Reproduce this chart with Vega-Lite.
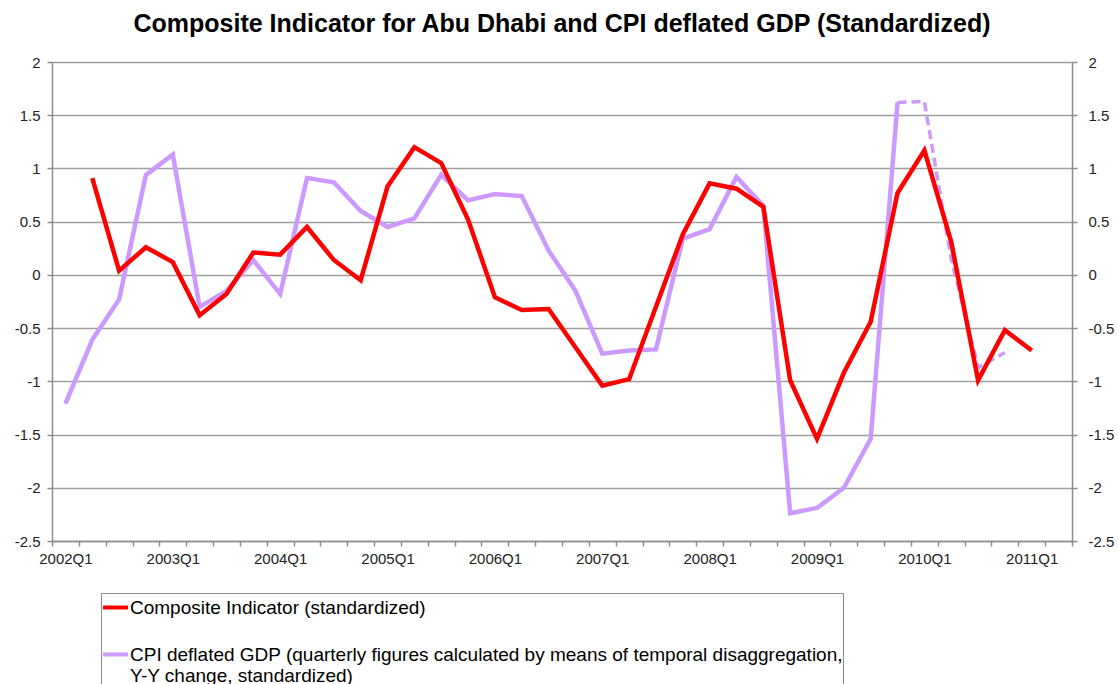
{
  "$schema": "https://vega.github.io/schema/vega-lite/v6.json",
  "width": 1020,
  "height": 479,
  "autosize": "none",
  "padding": {"left": 52, "top": 62, "right": 47, "bottom": 143},
  "background": "white",
  "title": {
    "text": "Composite Indicator for Abu Dhabi and CPI deflated GDP (Standardized)",
    "font": "Liberation Sans",
    "fontSize": 25,
    "fontWeight": "bold",
    "color": "#000000",
    "anchor": "middle",
    "offset": 18
  },
  "config": {
    "view": {"stroke": null},
    "axis": {
      "labelFont": "Liberation Sans",
      "labelFontSize": 15,
      "labelColor": "#222222",
      "domainColor": "#8c8c8c",
      "tickColor": "#8c8c8c",
      "domainWidth": 1.5,
      "tickWidth": 1.5,
      "title": null
    }
  },
  "data": {
    "values": [
      {"q": "2002Q2", "s": "ci", "v": 0.91},
      {"q": "2002Q3", "s": "ci", "v": 0.04},
      {"q": "2002Q4", "s": "ci", "v": 0.26},
      {"q": "2003Q1", "s": "ci", "v": 0.12},
      {"q": "2003Q2", "s": "ci", "v": -0.38},
      {"q": "2003Q3", "s": "ci", "v": -0.18},
      {"q": "2003Q4", "s": "ci", "v": 0.21},
      {"q": "2004Q1", "s": "ci", "v": 0.19},
      {"q": "2004Q2", "s": "ci", "v": 0.45},
      {"q": "2004Q3", "s": "ci", "v": 0.14},
      {"q": "2004Q4", "s": "ci", "v": -0.05},
      {"q": "2005Q1", "s": "ci", "v": 0.83},
      {"q": "2005Q2", "s": "ci", "v": 1.2},
      {"q": "2005Q3", "s": "ci", "v": 1.05},
      {"q": "2005Q4", "s": "ci", "v": 0.52},
      {"q": "2006Q1", "s": "ci", "v": -0.21},
      {"q": "2006Q2", "s": "ci", "v": -0.33},
      {"q": "2006Q3", "s": "ci", "v": -0.32},
      {"q": "2006Q4", "s": "ci", "v": -0.68},
      {"q": "2007Q1", "s": "ci", "v": -1.04},
      {"q": "2007Q2", "s": "ci", "v": -0.98},
      {"q": "2007Q3", "s": "ci", "v": -0.3},
      {"q": "2007Q4", "s": "ci", "v": 0.38},
      {"q": "2008Q1", "s": "ci", "v": 0.86},
      {"q": "2008Q2", "s": "ci", "v": 0.81},
      {"q": "2008Q3", "s": "ci", "v": 0.64},
      {"q": "2008Q4", "s": "ci", "v": -0.99},
      {"q": "2009Q1", "s": "ci", "v": -1.54},
      {"q": "2009Q2", "s": "ci", "v": -0.92},
      {"q": "2009Q3", "s": "ci", "v": -0.44},
      {"q": "2009Q4", "s": "ci", "v": 0.77},
      {"q": "2010Q1", "s": "ci", "v": 1.17},
      {"q": "2010Q2", "s": "ci", "v": 0.31},
      {"q": "2010Q3", "s": "ci", "v": -0.99},
      {"q": "2010Q4", "s": "ci", "v": -0.52},
      {"q": "2011Q1", "s": "ci", "v": -0.71},
      {"q": "2002Q1", "s": "gdp", "v": -1.21},
      {"q": "2002Q2", "s": "gdp", "v": -0.61},
      {"q": "2002Q3", "s": "gdp", "v": -0.23},
      {"q": "2002Q4", "s": "gdp", "v": 0.94},
      {"q": "2003Q1", "s": "gdp", "v": 1.13},
      {"q": "2003Q2", "s": "gdp", "v": -0.3},
      {"q": "2003Q3", "s": "gdp", "v": -0.15},
      {"q": "2003Q4", "s": "gdp", "v": 0.14},
      {"q": "2004Q1", "s": "gdp", "v": -0.18},
      {"q": "2004Q2", "s": "gdp", "v": 0.91},
      {"q": "2004Q3", "s": "gdp", "v": 0.87},
      {"q": "2004Q4", "s": "gdp", "v": 0.6},
      {"q": "2005Q1", "s": "gdp", "v": 0.45},
      {"q": "2005Q2", "s": "gdp", "v": 0.53},
      {"q": "2005Q3", "s": "gdp", "v": 0.94},
      {"q": "2005Q4", "s": "gdp", "v": 0.7},
      {"q": "2006Q1", "s": "gdp", "v": 0.76},
      {"q": "2006Q2", "s": "gdp", "v": 0.74},
      {"q": "2006Q3", "s": "gdp", "v": 0.23},
      {"q": "2006Q4", "s": "gdp", "v": -0.15},
      {"q": "2007Q1", "s": "gdp", "v": -0.74},
      {"q": "2007Q2", "s": "gdp", "v": -0.71},
      {"q": "2007Q3", "s": "gdp", "v": -0.7},
      {"q": "2007Q4", "s": "gdp", "v": 0.34},
      {"q": "2008Q1", "s": "gdp", "v": 0.43},
      {"q": "2008Q2", "s": "gdp", "v": 0.92},
      {"q": "2008Q3", "s": "gdp", "v": 0.65},
      {"q": "2008Q4", "s": "gdp", "v": -2.24},
      {"q": "2009Q1", "s": "gdp", "v": -2.19},
      {"q": "2009Q2", "s": "gdp", "v": -2.0},
      {"q": "2009Q3", "s": "gdp", "v": -1.54},
      {"q": "2009Q4", "s": "gdp", "v": 1.62},
      {"q": "2009Q4", "s": "gdpf", "v": 1.62},
      {"q": "2010Q1", "s": "gdpf", "v": 1.63},
      {"q": "2010Q2", "s": "gdpf", "v": 0.15},
      {"q": "2010Q3", "s": "gdpf", "v": -0.87},
      {"q": "2010Q4", "s": "gdpf", "v": -0.73}
    ]
  },
  "encoding": {
    "x": {
      "field": "q",
      "type": "ordinal",
      "scale": {
        "type": "band",
        "paddingInner": 0,
        "paddingOuter": 0,
        "domain": ["2002Q1","2002Q2","2002Q3","2002Q4","2003Q1","2003Q2","2003Q3","2003Q4","2004Q1","2004Q2","2004Q3","2004Q4","2005Q1","2005Q2","2005Q3","2005Q4","2006Q1","2006Q2","2006Q3","2006Q4","2007Q1","2007Q2","2007Q3","2007Q4","2008Q1","2008Q2","2008Q3","2008Q4","2009Q1","2009Q2","2009Q3","2009Q4","2010Q1","2010Q2","2010Q3","2010Q4","2011Q1","2011Q2"]
      },
      "axis": {
        "tickBand": "extent",
        "labelAngle": 0,
        "labelOverlap": false,
        "labelPadding": 5,
        "tickSize": 5,
        "grid": false,
        "labelExpr": "indexof(datum.label, 'Q1') > 0 ? datum.label : ''"
      }
    }
  },
  "layer": [
    {
      "transform": [{"filter": "datum.s == 'gdp'"}],
      "mark": {"type": "line", "strokeWidth": 4.5, "strokeJoin": "miter"},
      "encoding": {
        "y": {
          "field": "v",
          "type": "quantitative",
          "scale": {"domain": [-2.5, 2], "nice": false, "zero": false},
          "axis": {
            "orient": "right",
            "values": [-2.5, -2, -1.5, -1, -0.5, 0, 0.5, 1, 1.5, 2],
            "labelExpr": "'' + datum.value",
            "grid": false,
            "tickSize": 5,
            "labelPadding": 11
          }
        },
        "color": {
          "field": "s",
          "type": "nominal",
          "scale": {"domain": ["ci", "gdp"], "range": ["#ff0000", "#cc99ff"]},
          "legend": {
            "orient": "none",
            "legendX": 49,
            "legendY": 531,
            "title": null,
            "direction": "vertical",
            "strokeColor": "#8c8c8c",
            "fillColor": "#ffffff",
            "padding": 0,
            "symbolType": "stroke",
            "symbolStrokeWidth": 4,
            "symbolSize": 625,
            "labelFont": "Liberation Sans",
            "labelFontSize": 19,
            "labelColor": "#000000",
            "labelLimit": 900,
            "labelOffset": 0,
            "rowPadding": 22,
            "labelExpr": "datum.label == 'ci' ? 'Composite Indicator (standardized)' : ['CPI deflated GDP (quarterly figures calculated by means of temporal disaggregation,', 'Y-Y change, standardized)']"
          }
        }
      }
    },
    {
      "transform": [{"filter": "datum.s == 'gdpf'"}],
      "mark": {"type": "line", "strokeWidth": 3.5, "strokeDash": [9, 5], "color": "#cc99ff"},
      "encoding": {
        "y": {
          "field": "v",
          "type": "quantitative",
          "scale": {"domain": [-2.5, 2], "nice": false, "zero": false},
          "axis": null
        }
      }
    },
    {
      "transform": [{"filter": "datum.s == 'ci'"}],
      "mark": {"type": "line", "strokeWidth": 4.5, "strokeJoin": "miter"},
      "encoding": {
        "y": {
          "field": "v",
          "type": "quantitative",
          "scale": {"domain": [-2.5, 2], "nice": false, "zero": false},
          "axis": {
            "orient": "left",
            "values": [-2.5, -2, -1.5, -1, -0.5, 0, 0.5, 1, 1.5, 2],
            "labelExpr": "'' + datum.value",
            "grid": true,
            "gridColor": "#a0a0a0",
            "gridWidth": 1.5,
            "tickSize": 5,
            "labelPadding": 7
          }
        },
        "color": {"field": "s", "type": "nominal"}
      }
    }
  ],
  "resolve": {"scale": {"y": "independent"}}
}
